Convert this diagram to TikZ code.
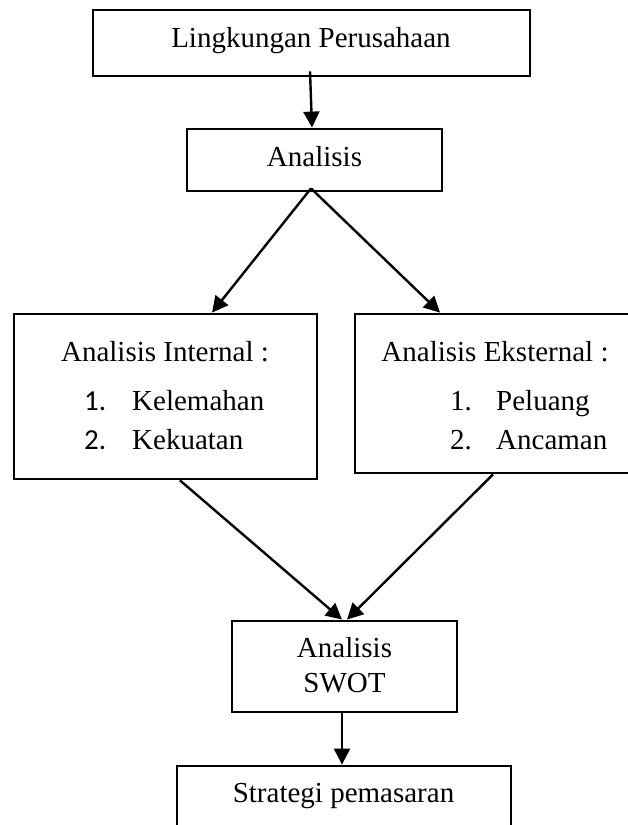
\documentclass[tikz,border=0pt]{standalone}
\usepackage{fontspec}
\setmainfont{Liberation Serif}
\newfontfamily\numf{Carlito}
\usetikzlibrary{arrows.meta,calc}
\tikzset{b/.style={draw,line width=2.8pt,inner sep=0pt},
 flow/.style={-{Triangle[length=16pt,width=16pt]},line width=2.4pt},
 t/.style={inner sep=0pt,anchor=base},l/.style={inner sep=0pt,anchor=base west}}

\begin{document}
\begin{tikzpicture}[x=1pt,y=1pt,font=\fontsize{29}{34}\selectfont]
\useasboundingbox (0,0) rectangle (628,825);
\node[b,minimum width=437,minimum height=66](lp) at (311.5,782){};
\node[b,minimum width=255,minimum height=62](an) at (314.5,665){};
\node[b,minimum width=303,minimum height=165](ai) at (165.5,428.5){};
\node[b,minimum width=282,minimum height=159](ae) at (496,431.5){};
\node[b,minimum width=225,minimum height=91](sw) at (344.5,158.5){};
\node[b,minimum width=334,minimum height=70](sp) at (344,24){};
% texts
\node[t](tlp) at (311,777){Lingkungan Perusahaan};
\node[t](tan) at (314.5,658){Analisis};
\node[t](tai) at (165,463){Analisis Internal :};
\node[l](n1) at (84,414){\numf 1.};\node[l](k1) at (132,414){Kelemahan};
\node[l](n2) at (84,375){\numf 2.};\node[l](k2) at (132,375){Kekuatan};
\node[t](tae) at (495,463){Analisis Eksternal :};
\node[l](m1) at (450,414){1.};\node[l](p1) at (496,414){Peluang};
\node[l](m2) at (450,375){2.};\node[l](p2) at (496,375){Ancaman};
\node[t](ts1) at (344.5,167){Analisis};\node[t](ts2) at (344.5,132){SWOT};
\node[t](tsp) at (343.5,22){Strategi pemasaran};
% arrows
\coordinate (apex) at ($(an.south)+(-3.5,4)$);
\draw[flow]($(lp.south)+(-1.5,6)$)--($(an.north)+(-2.5,0)$);
\draw[flow](apex)--($(ai.north)+(46.5,0)$);
\draw[flow](apex)--($(ae.north)+(-56,0)$);
\draw[flow]($(ai.south)+(14.5,0)$)--($(sw.north)+(-2.5,0)$);
\draw[flow]($(ae.south)+(-3,0)$)--($(sw.north)+(2.5,0)$);
\draw[flow]($(sw.south)+(-2.5,0)$)--($(sp.north)+(-2,0)$);
\end{tikzpicture}
\end{document}
